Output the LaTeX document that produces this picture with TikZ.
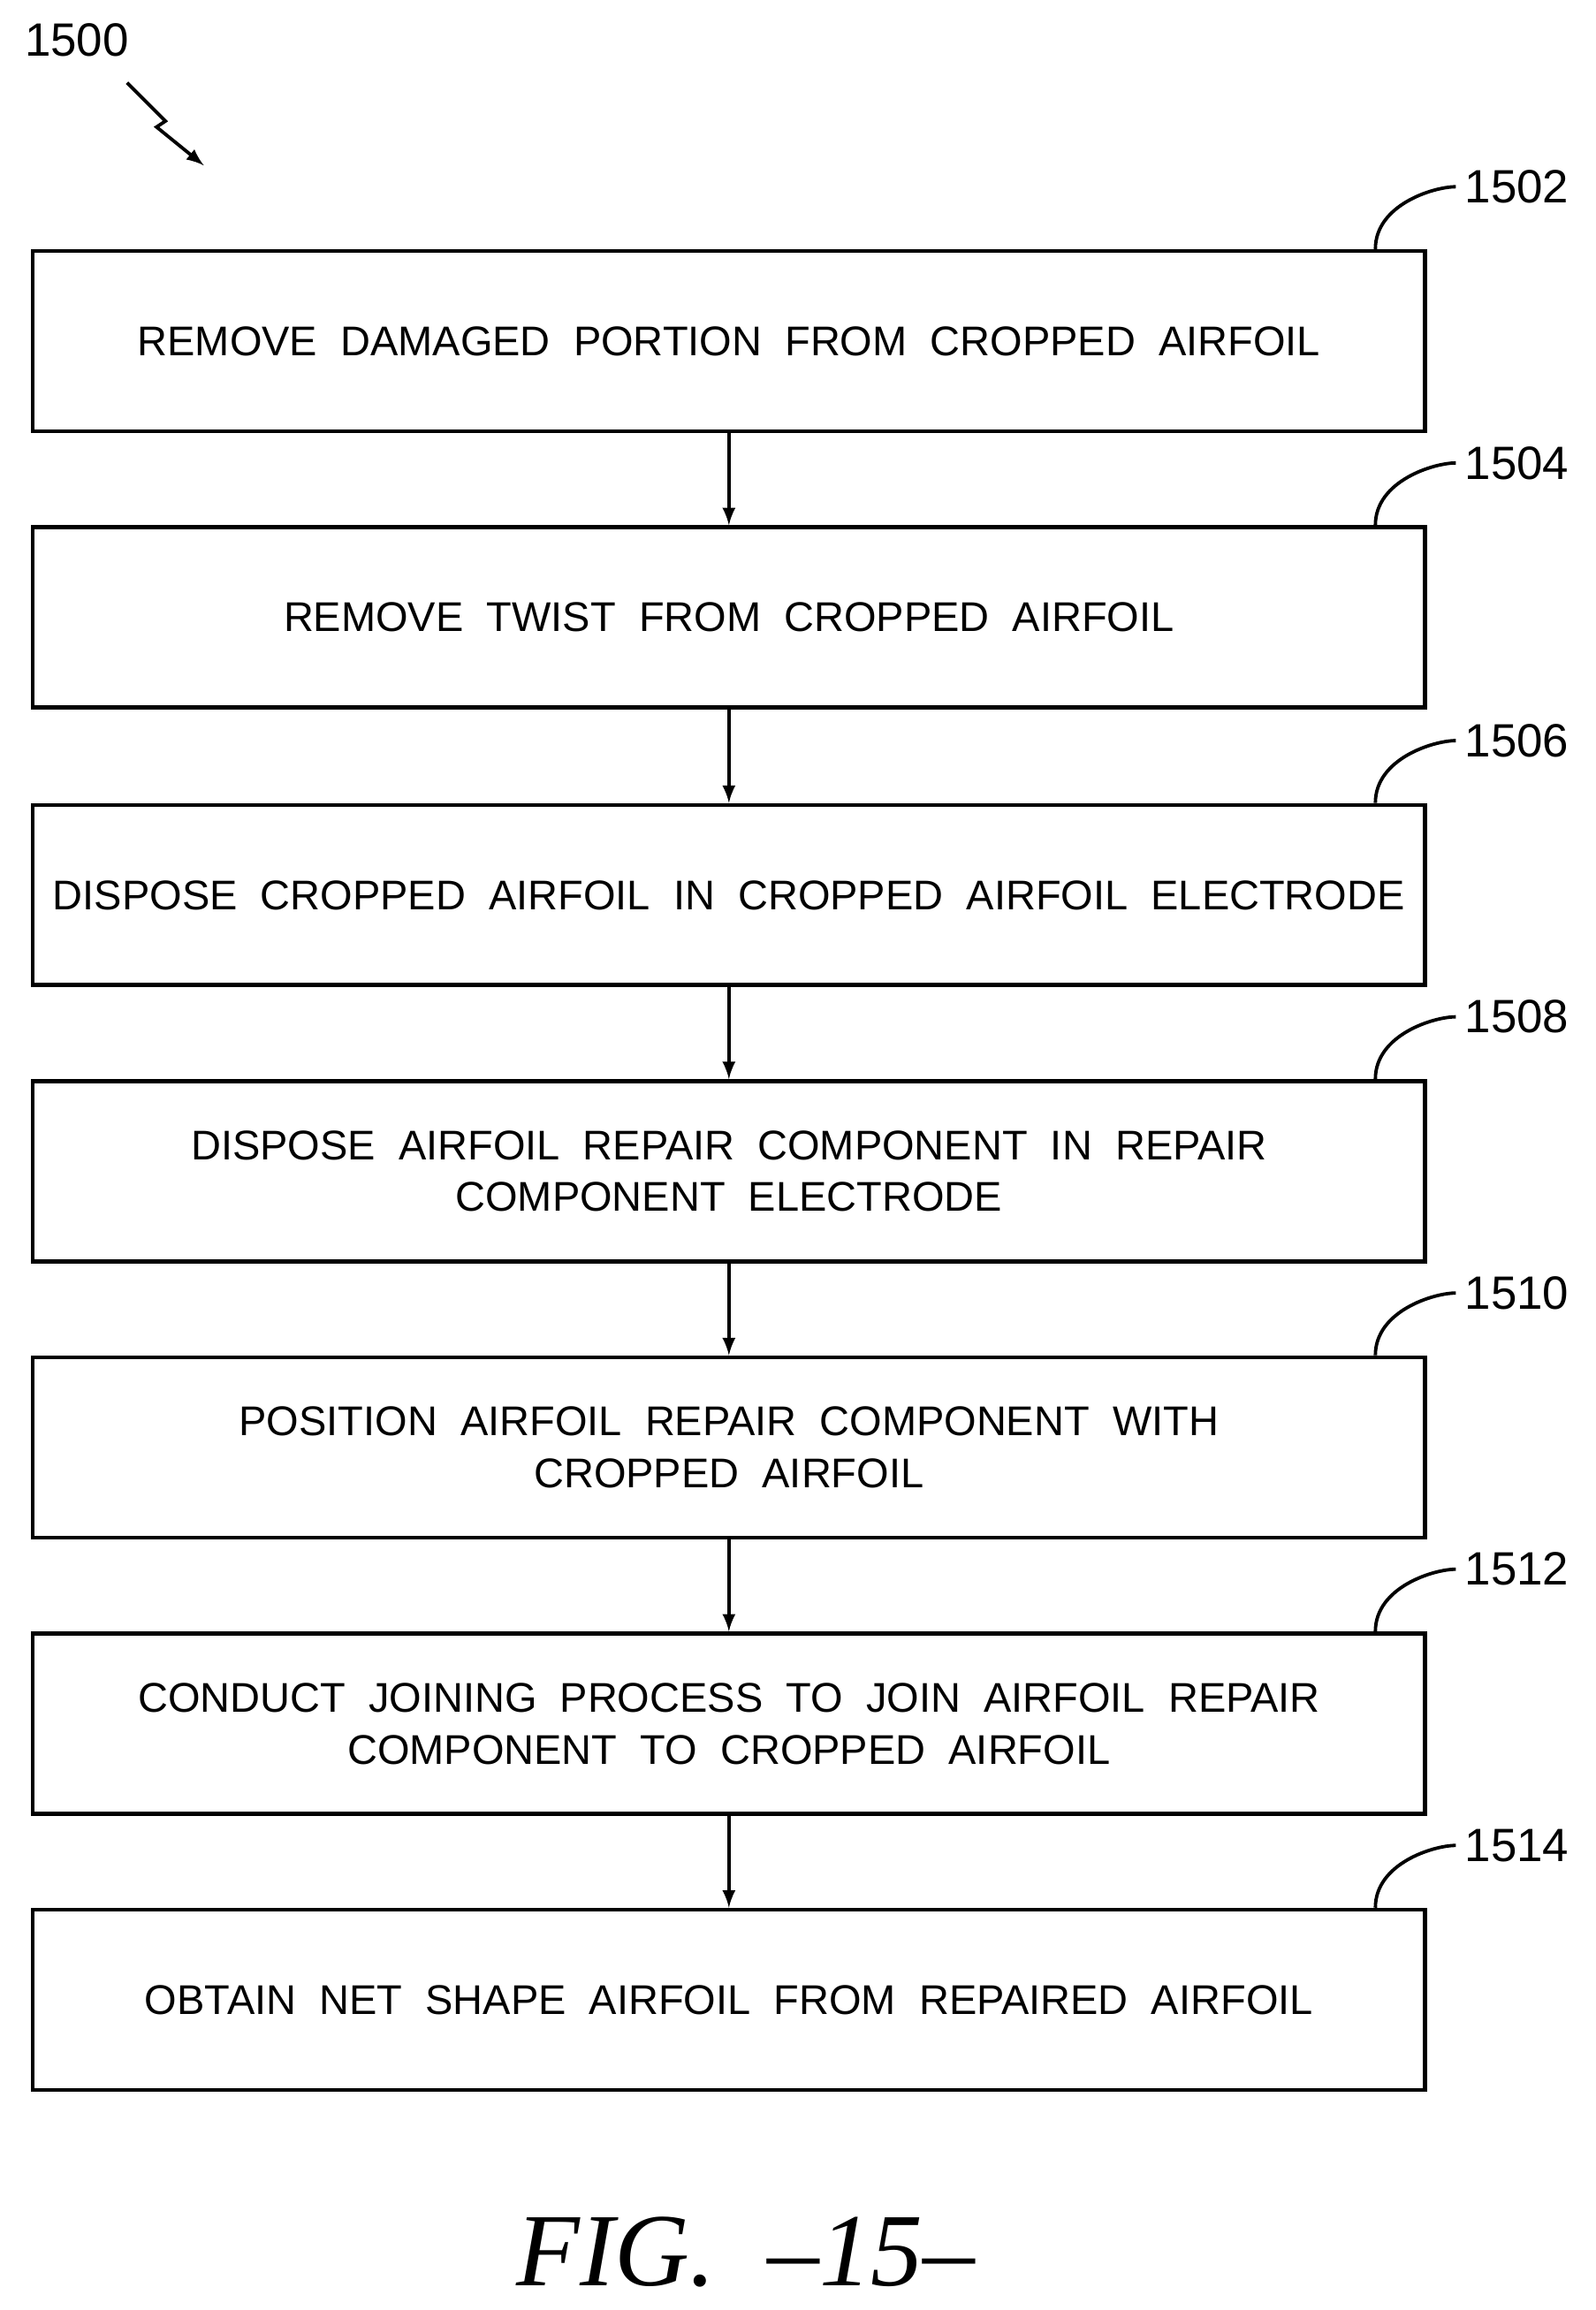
\documentclass[tikz,border=0pt]{standalone}
\usepackage{fontspec}
\setmainfont{Liberation Sans}
\usetikzlibrary{positioning,decorations.pathmorphing}
\tikzset{
  procbox/.style={draw, line width=1.6pt, minimum width=18.86cm, minimum height=2.44cm, align=center, font=\fontsize{16}{20}\selectfont},
  flow/.style={-latex, line width=1.3pt},
  tag/.style={font=\fontsize{18}{20}\selectfont}
}
\begin{document}
\begin{tikzpicture}[x=0.02cm,y=-0.02cm]
        \useasboundingbox (0,0) rectangle (1080,1564);
        % Steps
        \node[procbox] (s1) at (493.5,231) {REMOVE\ \ DAMAGED\ \ PORTION\ \ FROM\ \ CROPPED\ \ AIRFOIL};
        \node[procbox] (s2) at (493.5,418) {REMOVE\ \ TWIST\ \ FROM\ \ CROPPED\ \ AIRFOIL};
        \node[procbox] (s3) at (493.5,606) {DISPOSE\ \ CROPPED\ \ AIRFOIL\ \ IN\ \ CROPPED\ \ AIRFOIL\ \ ELECTRODE};
        \node[procbox] (s4) at (493.5,793) {DISPOSE\ \ AIRFOIL\ \ REPAIR\ \ COMPONENT\ \ IN\ \ REPAIR\\COMPONENT\ \ ELECTRODE};
        \node[procbox] (s5) at (493.5,980) {POSITION\ \ AIRFOIL\ \ REPAIR\ \ COMPONENT\ \ WITH\\CROPPED\ \ AIRFOIL};
        \node[procbox] (s6) at (493.5,1167) {CONDUCT\ \ JOINING\ \ PROCESS\ \ TO\ \ JOIN\ \ AIRFOIL\ \ REPAIR\\COMPONENT\ \ TO\ \ CROPPED\ \ AIRFOIL};
        \node[procbox] (s7) at (493.5,1354) {OBTAIN\ \ NET\ \ SHAPE\ \ AIRFOIL\ \ FROM\ \ REPAIRED\ \ AIRFOIL};

        % Arrows
        \foreach \a/\b in {s1/s2,s2/s3,s3/s4,s4/s5,s5/s6,s6/s7}
          \draw[flow] (\a) -- (\b);

        % Reference numerals
        \foreach \s/\n in {s1/1502,s2/1504,s3/1506,s4/1508,s5/1510,s6/1512,s7/1514} {
          \node[tag, anchor=west] (t\n) at ([xshift=11pt, yshift=24pt]\s.north east) {\n};
          \draw[line width=1.3pt] ([xshift=-20pt]\s.north east) .. controls +(0,-30) and +(-15,0) .. (t\n.west);
        }

        % Figure number
        \node[tag] (t1500) at (52,27) {1500};
        \coordinate (z) at (138,112);
        \draw[-latex, line width=1.3pt] (86,56) -- (112,82) -- (106,86) -- (z);
        \node (fig) at (505,1525) {\fontsize{40}{40}\selectfont\fontspec{Liberation Serif}\itshape FIG.\ \ –15–};
\end{tikzpicture}
\end{document}
